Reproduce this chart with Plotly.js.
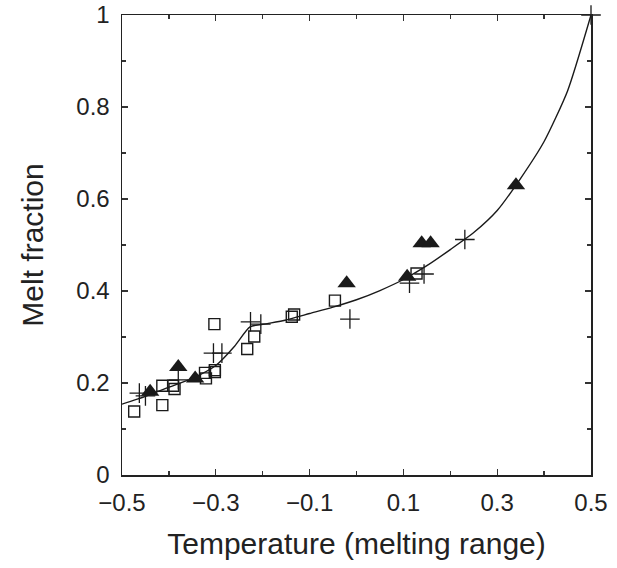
<!DOCTYPE html>
<html>
<head>
<meta charset="utf-8">
<script src="https://cdn.plot.ly/plotly-3.0.1.min.js"></script>
<style>html,body{margin:0;padding:0;background:#fff}#chart{width:617px;height:568px}</style>
</head>
<body>
<div id="chart"></div>
<script>
// Open squares
const squareX = [-0.474, -0.414, -0.414, -0.391, -0.388, -0.323, -0.321, -0.302, -0.302, -0.303, -0.233, -0.218, -0.138, -0.133, -0.046, 0.128];
const squareY = [0.138, 0.194, 0.152, 0.194, 0.187, 0.222, 0.210, 0.228, 0.224, 0.328, 0.274, 0.301, 0.344, 0.349, 0.379, 0.438];
// Crosses
const plusX = [-0.463, -0.450, -0.380, -0.305, -0.287, -0.226, -0.204, -0.014, 0.113, 0.144, 0.231, 0.5];
const plusY = [0.178, 0.172, 0.207, 0.265, 0.265, 0.333, 0.328, 0.339, 0.417, 0.437, 0.512, 1.0];
// Filled triangles
const triX = [-0.440, -0.380, -0.344, -0.021, 0.108, 0.139, 0.158, 0.340];
const triY = [0.181, 0.235, 0.210, 0.417, 0.431, 0.504, 0.504, 0.630];
// Model curve
const curveX = [-0.5, -0.45, -0.4, -0.35, -0.3, -0.26, -0.227, -0.19, -0.15, -0.1, -0.05, 0.0, 0.05, 0.1, 0.15, 0.2, 0.25, 0.3, 0.35, 0.4, 0.45, 0.5];
const curveY = [0.154, 0.171, 0.191, 0.210, 0.238, 0.280, 0.322, 0.329, 0.337, 0.351, 0.365, 0.381, 0.401, 0.425, 0.455, 0.490, 0.527, 0.575, 0.645, 0.725, 0.835, 1.0];

const ink = '#1a1a1a';
const traces = [
  {x: curveX, y: curveY, mode: 'lines', line: {color: ink, width: 1.4, shape: 'spline', smoothing: 0.6}, hoverinfo: 'skip'},
  {x: squareX, y: squareY, mode: 'markers', marker: {symbol: 'square-open', size: 11, color: ink, line: {width: 1.4, color: ink}}},
  {x: plusX, y: plusY, mode: 'markers', marker: {symbol: 'cross-thin-open', size: 14, color: ink, line: {width: 1.3, color: ink}}, cliponaxis: false},
  {x: triX, y: triY, mode: 'markers', marker: {symbol: 'triangle-up', size: 16, color: ink, line: {width: 0}}}
];

const fam = 'Liberation Sans, Arial, sans-serif';
const txt = '#222';
const layout = {
  width: 617, height: 568,
  margin: {l: 122, r: 26, t: 15, b: 93},
  showlegend: false,
  paper_bgcolor: '#fff', plot_bgcolor: '#fff',
  font: {family: fam, color: txt},
  xaxis: {
    range: [-0.5, 0.5], tick0: -0.5, dtick: 0.2, tickformat: '.1f',
    ticks: 'inside', ticklen: 6, tickwidth: 1.2, tickcolor: '#333',
    minor: {dtick: 0.1, tick0: -0.5, ticks: 'inside', ticklen: 4, tickwidth: 1.2, tickcolor: '#333'},
    showline: true, linecolor: '#222', linewidth: 1.5, mirror: 'allticks',
    showgrid: false, zeroline: false,
    tickfont: {size: 24, family: fam, color: txt},
    ticklabelstandoff: 6,
    title: {text: 'Temperature (melting range)', font: {size: 30, family: fam, color: txt}, standoff: 17}
  },
  yaxis: {
    range: [0, 1], tick0: 0, dtick: 0.2,
    tickvals: [0, 0.2, 0.4, 0.6, 0.8, 1], ticktext: ['0', '0.2', '0.4', '0.6', '0.8', '1'],
    ticks: 'inside', ticklen: 6, tickwidth: 1.2, tickcolor: '#333',
    minor: {dtick: 0.1, tick0: 0, ticks: 'inside', ticklen: 4, tickwidth: 1.2, tickcolor: '#333'},
    showline: true, linecolor: '#222', linewidth: 1.5, mirror: 'allticks',
    showgrid: false, zeroline: false,
    tickfont: {size: 24, family: fam, color: txt},
    ticklabelstandoff: 6,
    title: {text: 'Melt fraction', font: {size: 30, family: fam, color: txt}, standoff: 24}
  }
};
Plotly.newPlot('chart', traces, layout, {displayModeBar: false, staticPlot: true});
</script>
</body>
</html>
